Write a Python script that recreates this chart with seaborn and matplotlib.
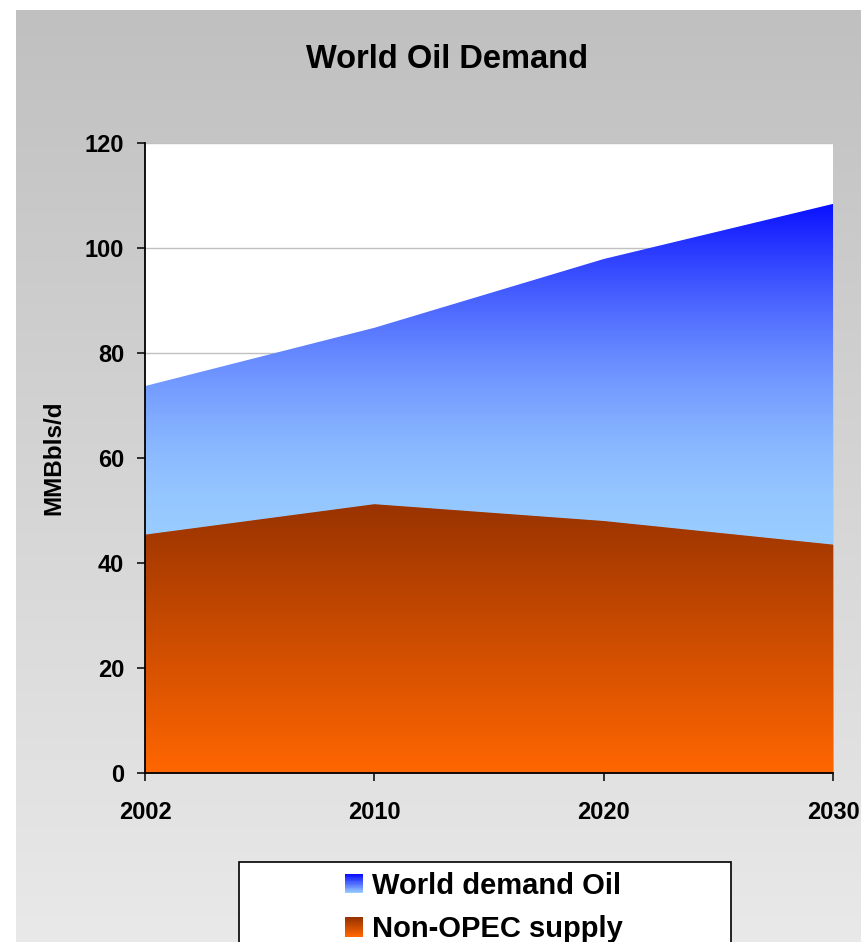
import numpy as np
import matplotlib
matplotlib.use('Agg')
import matplotlib.pyplot as plt
from matplotlib.patches import Rectangle, Patch
from matplotlib.legend_handler import HandlerBase
import seaborn as sns

# data (MMBbls/d)
years = ['2002', '2010', '2020', '2030']
world_demand = [73.7, 84.8, 97.9, 108.4]
non_opec_supply = [45.4, 51.2, 48.0, 43.5]
y_ticks = [0, 20, 40, 60, 80, 100, 120]

sns.set_theme(style='white')
plt.rcParams['font.family'] = ['Liberation Sans', 'DejaVu Sans']
plt.rcParams['text.color'] = 'black'
plt.rcParams['legend.labelcolor'] = 'black'

W, H = 861, 942
fig = plt.figure(figsize=(W / 100, H / 100), dpi=100)
fig.patch.set_facecolor('white')

# gray gradient chart area background
bg = fig.add_axes([16 / W, 0, 1 - 16 / W, 1 - 10 / H], zorder=-10)
bg_cmap = sns.blend_palette(['#e9e9e9', '#c0c0c0'], n_colors=256, as_cmap=True)
bg.imshow(np.linspace(0, 1, 256).reshape(-1, 1), origin='lower', aspect='auto',
          cmap=bg_cmap, extent=[0, 1, 0, 1])
bg.axis('off')

ax = fig.add_axes([145 / W, 1 - 773 / H, (833 - 145) / W, (773 - 143) / H])
ax.set_facecolor('white')

blue_cmap = sns.blend_palette(['#99ccff', '#0a10ff'], n_colors=256, as_cmap=True)
orange_cmap = sns.blend_palette(['#ff6600', '#993300'], n_colors=256, as_cmap=True)

x = np.arange(len(years))


def gradient_area(values, cmap, lo, base_color, z, curve=1.0):
    hi = max(values)
    poly = ax.fill_between(x, 0, values, color=base_color, lw=0, zorder=z)
    t = np.linspace(0, 1, 256)  # 0 = bottom (lo), 1 = top (hi)
    frac_dark = t ** curve
    im = ax.imshow(frac_dark.reshape(-1, 1), origin='lower', aspect='auto',
                   cmap=cmap, vmin=0, vmax=1,
                   extent=[x[0], x[-1], lo, hi], zorder=z + 0.05)
    im.set_clip_path(poly.get_paths()[0], ax.transData)


gradient_area(world_demand, blue_cmap, min(non_opec_supply) - 1, '#99ccff', 1.0, curve=1.8)
gradient_area(non_opec_supply, orange_cmap, 0, '#ff6600', 1.2)

ax.set_xlim(x[0], x[-1])
ax.set_ylim(0, 120)
ax.set_xticks(x)
ax.set_xticklabels(years)
ax.set_yticks(y_ticks)

ax.set_axisbelow(True)
ax.yaxis.grid(True, color='#c0c0c0', lw=1.0)
ax.xaxis.grid(False)

for s in ['top', 'right']:
    ax.spines[s].set_visible(False)
for s in ['left', 'bottom']:
    ax.spines[s].set_color('black')
    ax.spines[s].set_linewidth(1.3)

ax.tick_params(axis='both', which='major', direction='out', length=6, width=1.1,
               color='black', labelcolor='black', labelsize=17,
               left=True, bottom=True)
ax.tick_params(axis='y', pad=9)
ax.tick_params(axis='x', pad=14)
for lab in ax.get_xticklabels() + ax.get_yticklabels():
    lab.set_fontweight('bold')

fig.text(447 / W, 1 - 60 / H, 'World Oil Demand', ha='center', va='center',
         fontsize=23.5, fontweight='bold', color='black')
fig.text(53.5 / W, 1 - 458 / H, 'MMBbls/d', ha='center', va='center',
         rotation=90, fontsize=17.5, fontweight='bold', color='black')


class GradientHandler(HandlerBase):
    def __init__(self, cmap):
        super().__init__()
        self.cmap = cmap

    def create_artists(self, legend, orig_handle, xdescent, ydescent,
                       width, height, fontsize, trans):
        n = 24
        arts = []
        for i in range(n):
            r = Rectangle((-xdescent, -ydescent + height * i / n), width, height / n + 0.3,
                          facecolor=self.cmap(i / (n - 1)), lw=0, transform=trans)
            arts.append(r)
        return arts


# legend frame
fig.patches.append(Rectangle((239 / W, -0.05), (731 - 239) / W, 1 - 862 / H + 0.05,
                             transform=fig.transFigure, facecolor='white',
                             edgecolor='black', lw=1.2, zorder=5))

h_blue = Patch(color='#0a10ff')
h_orange = Patch(color='#993300')
leg = fig.legend([h_blue, h_orange], ['World demand Oil', 'Non-OPEC supply'],
                 handler_map={h_blue: GradientHandler(blue_cmap),
                              h_orange: GradientHandler(orange_cmap)},
                 loc='upper left', bbox_to_anchor=(345 / W, 1 - 872 / H),
                 bbox_transform=fig.transFigure, frameon=False,
                 borderpad=0, borderaxespad=0, handlelength=0.62, handleheight=0.62,
                 handletextpad=0.31, labelspacing=0.53,
                 prop={'size': 21, 'weight': 'bold'})
leg.set_zorder(6)
for t in leg.get_texts():
    t.set_color('black')

fig.savefig('out.png', dpi=100)
